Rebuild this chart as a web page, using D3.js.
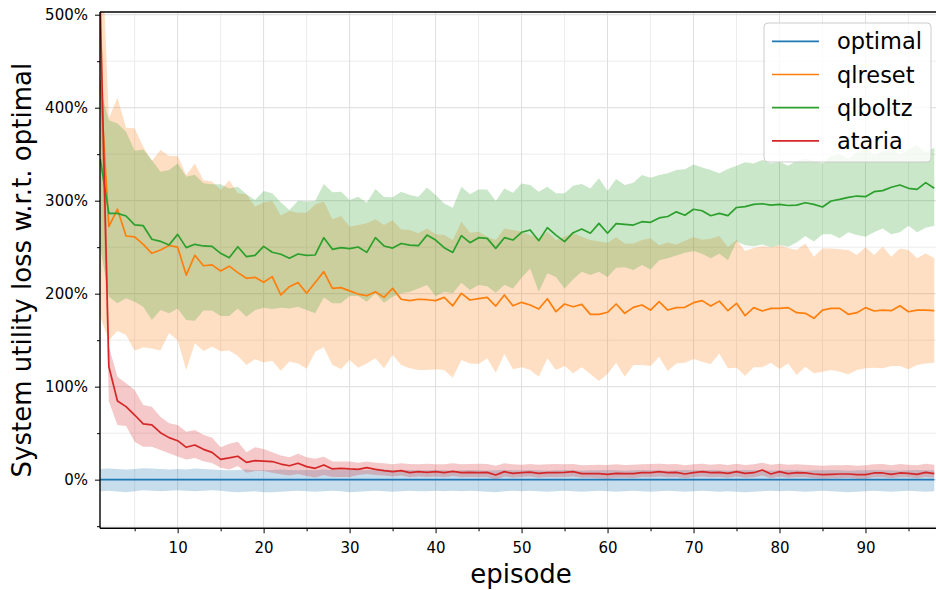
<!DOCTYPE html>
<html><head><meta charset="utf-8">
<script src="https://cdn.jsdelivr.net/npm/d3@7"></script>
<style>
html,body{margin:0;padding:0;background:#fff;}
svg{display:block;font-family:"DejaVu Sans",sans-serif;}
</style></head>
<body><svg id="chart" width="936" height="590"></svg>
<script>
const seriesNames = ["optimal", "qlreset", "qlboltz", "ataria"];
const seriesColors = ["#1f77b4", "#ff7f0e", "#2ca02c", "#d62728"];
const yTickValues = [0, 100, 200, 300, 400, 500];
const yMinorTicks = [-50, 50, 150, 250, 350, 450];
const xTickValues = [10, 20, 30, 40, 50, 60, 70, 80, 90];
const xMinorTicks = [5, 15, 25, 35, 45, 55, 65, 75, 85, 95];
const episodes = d3.range(1, 99);

const optimalMean = episodes.map(() => 0);
const optimalUpper = [
11.5,12,11.5,11,11.5,12.3,12,11.5,11,11.5,
11,12,11.5,11,10.5,10,10.5,11,10,10,
10.5,11,10.5,10,10.5,10,11,10.5,10,10.5,
10,10.5,10,11,10.5,10,10.5,10,10,10.5,
10,9.5,10,10.5,10,9.5,10,10.5,10,10,
10.5,10,9.5,10,10.5,10,9.5,10,10,10.5,
10,9.5,10,10.5,10,10,9.5,10,10.5,10,
10,10.5,10,9.5,10,10.5,10,10,9.5,10,
10.5,10,9.5,10,10,10.5,10,9.5,10,10,
10.5,10,10,9.5,10,10.5,10,10];
const optimalLower = [
-12.5,-12,-12.8,-13.5,-12.5,-11.5,-12,-12.5,-12,-11.5,
-12,-12.5,-12,-11.5,-12,-13,-13.5,-13,-12.5,-13.5,
-13.5,-13,-12.5,-12,-12.5,-13,-12.5,-12,-12.5,-13.5,
-13,-12.5,-12,-12.5,-13,-12.5,-12,-12.5,-12.5,-12,
-12.5,-12,-12.5,-12,-12.5,-13,-13.5,-12.5,-12,-12.5,
-12,-12.5,-13,-12.5,-12,-12.5,-13,-12.5,-12,-12.5,
-13,-12.5,-12,-12.5,-13,-12.5,-12,-12.5,-13,-12.5,
-12,-12.5,-13,-12.5,-13,-13.5,-13,-12.5,-12,-12.5,
-12,-12.5,-13,-12.5,-12,-12.5,-13,-13.5,-13,-12.5,
-12,-12.5,-13,-12.5,-12,-12.5,-13,-12.5];

const qlresetMean = [
430,272,290.8,262,261,253,243.4,247,251.8,250,
220,241.4,230,231,224.4,229.6,222.6,216.5,217.6,212.2,
218.3,198.6,207.5,212,200.4,212,223.7,205.7,206.5,203,
199.6,197.8,202,196,205.7,194,192.5,194,193.5,192.5,
196,187,200.4,193.2,194.6,196,186.7,198.6,187,190.7,
187.8,183.5,194.6,180.6,188.9,186,188.5,177.8,177.8,180,
188.9,178.9,185.3,187.8,182.4,191.4,182.4,185,185.3,190.3,
192.5,186.7,192,181.7,189.6,176.3,185,181.4,184.2,184.2,
185,179.6,178.9,173.5,182.4,184.2,184.2,177.8,179.6,185,
181.4,182.4,181.7,187,180.6,182.4,182.4,181.7];
const qlresetUpper = [
620,388.6,410.8,378.5,378,358,342.7,354.5,348,348,
327.6,340,322,320.5,311.5,322,308,307,293.5,298,
300,284,289,287,287,296,299,280,283.5,272,
273.8,275.6,280,273.8,279,269,268.5,265,270,264,
263,257.7,277.4,265.6,266.7,261.3,257.7,270,268.5,266.7,
263,259.5,266.7,257.7,261.3,265.6,261.3,257.7,256,254.8,
260.6,254,254,257.7,259.5,252,255,253,257,261,
258,259,262,250,258,246,249,251,250,252,
249,247,254,239.8,248.7,248.7,247.7,247,241.6,250,
241.6,250.5,239.8,248.7,247,238,243.4,238];
const qlresetLower = [
175,150,160,155.6,138.7,142.4,141,139,157.4,150,
118,146.6,138.4,143,138,139,133,123.3,129.6,126,
127.8,117,127,125,119.4,137.6,142.3,123.3,119,128.7,
120.4,125,130.5,119.7,134,123.3,119.7,118,118,118.6,
118,109.7,128.7,125,124.4,130.5,115,135,118.6,120.8,
118,110.8,130.5,118,122.2,114.3,120.8,113.6,106,113.6,
125.8,110.8,123.3,123.3,122.2,132.3,116.8,125,125.8,129.7,
126.9,124.4,135.8,119.7,120.4,111.8,120.8,120.8,125.8,119,
125,112.5,121.5,114.3,116,118,116,113.3,118,119.7,
120.4,119.7,122.2,122.2,118.6,123.3,125,125.8];

const qlboltzMean = [
345,286.4,286.4,283.5,273.9,273.1,258.5,256.3,252.4,263.8,
249.5,253.1,251.3,250.9,243.4,238.7,250.5,239.8,241.2,250.9,
244.5,242.4,238.1,242.7,241.2,241.6,260.2,247.7,249.5,248.4,
250.2,244.4,260.2,251.3,249,254,252.3,251.6,263,257.7,
249.5,244.4,262.4,254.8,260.2,259.5,248.7,260.2,257.7,266,
268.5,257,271,263,256,265.6,269.5,265,275.6,265,
275.3,274.6,273.8,277.4,276.7,281.5,283,288,284.3,290.8,
289.2,283.8,286.4,284,292.7,293.6,296,296.7,295.3,296,
294.8,295.3,297.8,296,293.2,299.7,301.4,303.6,305,304.3,
309.7,310.8,314.4,316.9,313.3,312.2,319.4,313.3];
const qlboltzUpper = [
420,386.6,383,374,353.8,355,343.8,331,333,340,
325.8,328,318.7,317.6,317.6,313,315,306.8,300.7,310.4,
307.9,298,290,300,299,299.6,318,309,309.7,300.7,
304.3,297.8,312.5,304,303.6,309.7,306,304.3,314.3,306,
297,292.5,315,307,312,312,299.6,313,308.6,318.6,
316.8,309.7,315,308,308,316,318,313,324,310.4,
323.3,316.8,319.4,327.6,324.7,327.6,329.4,333,333.7,339,
335.8,333,329.4,334,337.6,341.2,340,343.7,340,342,
337.6,343,345,343,340,348,350,345,352,355,
350,353,357,350,355,360,352,357];
const qlboltzLower = [
250,196.8,189.6,195,191.4,186,171.7,182.4,179,184,
171.7,171,182,182,176,176,184,175.3,182.4,185,
183.5,185,184,186,182.4,178.9,196,189.6,189.6,197.5,
197.5,191.4,200.4,190.3,196.8,200.4,202,205.7,209.3,197.5,
202,200.4,211.8,204,209.3,208,201,209.3,205.7,217,
227,202,221.9,218,205.7,215.4,223.7,220,223.7,218,
228,228.3,225.4,230.8,226,236,238,241,244,246,
243,238,243,236,256,252,251,253,250,252.3,
250.5,255,262,256,264,264,259.5,266,263,261.3,
266,270,264,266,273,266,271,273];

const atariaMean = [
505,121.5,84.6,78.5,69.5,59.9,59,50.5,45.2,41.9,
34.8,37.3,32.6,29.4,21.9,23.4,25.2,18.6,20.4,20,
19.5,16.8,15,17.6,14,12.2,15.8,11.5,12.2,11.5,
11.1,12.9,11.1,9.7,8.6,9.7,7.5,8.6,7.9,8.6,
7.5,9,7.5,7.9,7.5,7.9,5,8.6,6.8,7.5,
8.2,6.8,7.5,7.5,7.9,8.6,6.5,6.5,6.5,5.7,
6.8,6.5,6.5,7.5,7.5,8.6,7.5,7.9,6.1,7.5,
8.6,7.5,7.9,6.8,8.6,6.8,7.5,10.4,6.1,8.6,
6.5,7.5,7.2,6.1,5.4,5.7,6.1,6.1,5.4,5.4,
7.2,7.2,5.7,7.2,6.8,5.7,7.9,6.5];
const atariaUpper = [
560,143,110.8,103.7,96.4,80.3,78.5,67.7,60.6,58.8,
51.6,53.4,48.4,45,34.8,38.6,40.8,29.5,34.8,33,
29.5,26,24.2,28,24.2,22.5,24.7,19.4,19.4,19.4,
18.3,19.4,18.3,17.6,16.5,17.6,16.8,16.5,17,16.5,
16.5,17.6,16.5,16.8,17,16.8,15,17.6,16.5,16.1,
16.8,16.1,16.5,16.8,16.5,16.8,15.4,15.8,16.1,15.8,
16.5,15.8,16.1,16.5,16.8,17.2,16.5,16.8,15.4,16.5,
17.2,16.1,16.8,15.8,17.2,15.8,16.5,18.3,16.1,17.2,
16.1,16.5,16.1,15.4,15,15.4,15.4,15.8,15,15.4,
16.5,16.8,15.4,16.8,16.1,15.4,17.2,16.1];
const atariaLower = [
420,84,58.8,57.6,40.9,35.5,35.5,32,28.5,25,
21.6,23.3,19.8,18,12.8,11,14.6,7.5,9.3,9.3,
7.5,5.7,4.6,6,4,2.2,5,3,3,3,
5,6,5,4.5,3.5,4.5,2.5,3.5,3,3.5,
2.5,4,2.5,3,2.5,3,0,3.5,2,3,
3.5,2,3,2.5,3,3.5,2,2,1.5,1,
2,2,1.5,3,2.5,3.5,2.5,3,1.5,2.5,
3.5,2.5,3,2,3.5,2,2.5,4.5,1.5,3.5,
2,2.5,2.5,1.5,1,1.5,1.5,2,1,1,
2.5,2.5,1.5,2.5,2.5,1.5,3,2];

const seriesMeans = [optimalMean, qlresetMean, qlboltzMean, atariaMean];
const seriesUppers = [optimalUpper, qlresetUpper, qlboltzUpper, atariaUpper];
const seriesLowers = [optimalLower, qlresetLower, qlboltzLower, atariaLower];

const svg = d3.select("#chart");
const L = 100, T = 12, R = 936, B = 528.3;
const x = d3.scaleLinear().domain([0.97, 98.2]).range([L, R]);
const y = d3.scaleLinear().domain([-52.3, 502.9]).range([B, T]);

svg.append("defs").append("clipPath").attr("id", "clip")
  .append("rect").attr("x", L).attr("y", T).attr("width", R - L).attr("height", B - T);

// grid
const grid = svg.append("g");
xMinorTicks.forEach(v => grid.append("line").attr("x1", x(v)).attr("x2", x(v)).attr("y1", T).attr("y2", B)
  .attr("stroke", "#ececec").attr("stroke-width", 1));
yMinorTicks.forEach(v => grid.append("line").attr("x1", L).attr("x2", R).attr("y1", y(v)).attr("y2", y(v))
  .attr("stroke", "#ececec").attr("stroke-width", 1));
xTickValues.forEach(v => grid.append("line").attr("x1", x(v)).attr("x2", x(v)).attr("y1", T).attr("y2", B)
  .attr("stroke", "#dedede").attr("stroke-width", 1));
yTickValues.forEach(v => grid.append("line").attr("x1", L).attr("x2", R).attr("y1", y(v)).attr("y2", y(v))
  .attr("stroke", "#e2e2e2").attr("stroke-width", 1.2));

const plot = svg.append("g").attr("clip-path", "url(#clip)");
// bands
seriesNames.forEach((name, s) => {
  const area = d3.area()
    .x((d, i) => x(episodes[i]))
    .y0((d, i) => y(seriesLowers[s][i]))
    .y1((d, i) => y(seriesUppers[s][i]));
  plot.append("path").datum(episodes).attr("d", area)
    .attr("fill", seriesColors[s]).attr("fill-opacity", 0.25);
});
// lines
seriesNames.forEach((name, s) => {
  const line = d3.line().x((d, i) => x(episodes[i])).y((d, i) => y(seriesMeans[s][i]));
  plot.append("path").datum(episodes).attr("d", line)
    .attr("fill", "none").attr("stroke", seriesColors[s]).attr("stroke-width", 1.7)
    .attr("stroke-linejoin", "round");
});

// axes
const yAxis = svg.append("g").attr("transform", `translate(${L},0)`)
  .call(d3.axisLeft(y).tickValues(yTickValues).tickFormat(d => d + "%").tickSize(5).tickPadding(7));
const yMinor = svg.append("g").attr("transform", `translate(${L},0)`)
  .call(d3.axisLeft(y).tickValues(yMinorTicks).tickFormat("").tickSize(3));
const xAxis = svg.append("g").attr("transform", `translate(0,${B})`)
  .call(d3.axisBottom(x).tickValues(xTickValues).tickSize(5).tickPadding(9));
const xMinor = svg.append("g").attr("transform", `translate(0,${B})`)
  .call(d3.axisBottom(x).tickValues(xMinorTicks).tickFormat("").tickSize(3));
[yMinor, xMinor, yAxis, xAxis].forEach(g => g.select(".domain").remove());
[yAxis, xAxis, yMinor, xMinor].forEach(g => {
  g.selectAll(".tick line").attr("stroke", "#000").attr("stroke-width", 1);
  g.selectAll(".tick text").attr("font-size", 15).attr("fill", "#000")
    .attr("font-family", "DejaVu Sans");
});
// spines
svg.append("line").attr("x1", L).attr("x2", L).attr("y1", T).attr("y2", B).attr("stroke", "#000").attr("stroke-width", 1.4);
svg.append("line").attr("x1", L).attr("x2", R).attr("y1", B).attr("y2", B).attr("stroke", "#000").attr("stroke-width", 1.4);
svg.append("line").attr("x1", L).attr("x2", R).attr("y1", T).attr("y2", T).attr("stroke", "#000").attr("stroke-width", 1.4);

// labels
svg.append("text").attr("transform", `translate(31,${(T + B) / 2}) rotate(-90)`)
  .attr("text-anchor", "middle").attr("font-size", 26).attr("fill", "#000")
  .text("System utility loss w.r.t. optimal");
svg.append("text").attr("x", (L + R) / 2 + 3).attr("y", 583)
  .attr("text-anchor", "middle").attr("font-size", 26).attr("fill", "#000")
  .text("episode");

// legend
const lg = svg.append("g");
lg.append("rect").attr("x", 764).attr("y", 23).attr("width", 167).attr("height", 139)
  .attr("rx", 4).attr("fill", "#fff").attr("fill-opacity", 0.8)
  .attr("stroke", "#cccccc").attr("stroke-width", 1);
seriesNames.forEach((name, s) => {
  const ly = 41.3 + s * 33.2;
  lg.append("line").attr("x1", 772).attr("x2", 819).attr("y1", ly).attr("y2", ly)
    .attr("stroke", seriesColors[s]).attr("stroke-width", 1.7);
  lg.append("text").attr("x", 837).attr("y", ly + 8).attr("font-size", 22.5).attr("fill", "#000").text(name);
});
</script>
</body></html>
